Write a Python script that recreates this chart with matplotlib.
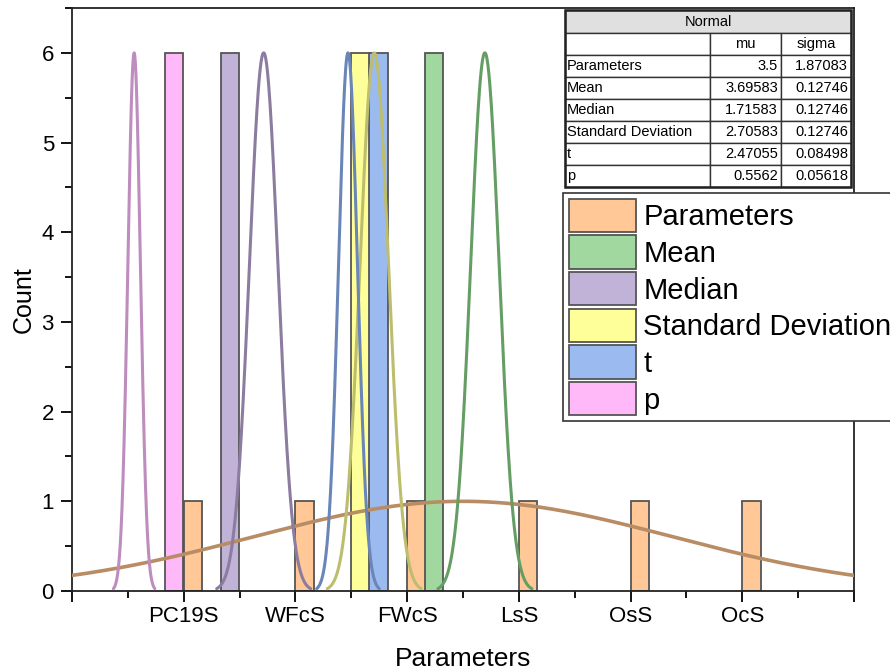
import numpy as np
import matplotlib
matplotlib.use("Agg")
import matplotlib.pyplot as plt
from matplotlib.patches import Rectangle
from matplotlib.ticker import MultipleLocator, FixedLocator

plt.rcParams['font.family'] = ['Liberation Sans', 'DejaVu Sans']

# ---------------- data ----------------
categories = ['PC19S', 'WFcS', 'FWcS', 'LsS', 'OsS', 'OcS']
category_pos = [1, 2, 3, 4, 5, 6]

series = ['Parameters', 'Mean', 'Median', 'Standard Deviation', 't', 'p']
mu = [3.5, 3.69583, 1.71583, 2.70583, 2.47055, 0.5562]
sigma = [1.87083, 0.12746, 0.12746, 0.12746, 0.08498, 0.05618]
mu_text = ['3.5', '3.69583', '1.71583', '2.70583', '2.47055', '0.5562']
sigma_text = ['1.87083', '0.12746', '0.12746', '0.12746', '0.08498', '0.05618']

# histogram bins (left edges) and counts per series
bin_left = {
    'Parameters': [1, 2, 3, 4, 5, 6],
    'Mean': [3.16],
    'Median': [1.33],
    'Standard Deviation': [2.50],
    't': [2.66],
    'p': [0.83],
}
bin_count = {
    'Parameters': [1, 1, 1, 1, 1, 1],
    'Mean': [6],
    'Median': [6],
    'Standard Deviation': [6],
    't': [6],
    'p': [6],
}
bin_width = 0.165
peak = [1, 6, 6, 6, 6, 6]

fill_colors = ['#FFC896', '#A0D8A0', '#C1B3D7', '#FFFF99', '#9BBBF0', '#FFB8F8']
line_colors = ['#B88C64', '#649E64', '#8C7CA0', '#BDBD6E', '#6A86B8', '#BE8CBE']

W, H = 890, 669
fig = plt.figure(figsize=(W / 100, H / 100), dpi=100)


def fx(x):
    return x / W


def fy(y):
    return 1 - y / H


ax = fig.add_axes([fx(72), fy(591), fx(854) - fx(72), fy(8) - fy(591)])
ax.set_xlim(0, 7)
ax.set_ylim(0, 6.5)

# bars
for i, s in enumerate(series):
    ax.bar(bin_left[s], bin_count[s], width=bin_width, align='edge',
           color=fill_colors[i], edgecolor='#555555', linewidth=1.3,
           label=s, zorder=2)

# normal curves
for i, s in enumerate(series):
    if i == 0:
        xs = np.linspace(0, 7, 400)
    else:
        xs = np.linspace(mu[i] - 3.3 * sigma[i], mu[i] + 3.3 * sigma[i], 200)
    ys = peak[i] * np.exp(-(xs - mu[i]) ** 2 / (2 * sigma[i] ** 2))
    ax.plot(xs, ys, color=line_colors[i], lw=2.6 if i == 0 else 2.2,
            zorder=3, solid_capstyle='round')

# axes styling
ax.xaxis.set_major_locator(FixedLocator(list(range(0, 8))))
ax.set_xticklabels([''] + categories + [''])
ax.xaxis.set_minor_locator(MultipleLocator(0.5))
ax.yaxis.set_major_locator(MultipleLocator(1))
ax.yaxis.set_minor_locator(MultipleLocator(0.5))
ax.tick_params(which='major', direction='out', length=8, width=1.3,
               labelsize=16, pad=3, colors='black')
ax.tick_params(which='minor', direction='out', length=5, width=1.3)
ax.tick_params(axis='y', which='major', pad=5)
for sp in ax.spines.values():
    sp.set_linewidth(1.3)
    sp.set_color('#222222')

ax.set_xlabel('Parameters', fontsize=19, labelpad=14)
ax.set_ylabel('Count', fontsize=18, labelpad=4)

# legend
leg = ax.legend(loc='upper left', bbox_to_anchor=(fx(563), fy(193)),
                bbox_transform=fig.transFigure, fontsize=21,
                handlelength=2.3, handleheight=1.38, labelspacing=0.115,
                handletextpad=0.25, borderpad=0.2, borderaxespad=0,
                frameon=True, fancybox=False, framealpha=1)
leg.get_frame().set_edgecolor('#333333')
leg.get_frame().set_linewidth(1.2)
leg.set_zorder(10)

# parameter table (top right)
col_x = [565, 710, 781, 851]
row_y = [10, 33, 55, 77, 99, 121, 143, 165, 187]
tfs = 10.5


def cell(x0, y0, x1, y1, face='white'):
    r = Rectangle((fx(x0), fy(y1)), fx(x1) - fx(x0), fy(y0) - fy(y1),
                  transform=fig.transFigure, facecolor=face,
                  edgecolor='#333333', linewidth=1.0, zorder=20)
    fig.add_artist(r)


cell(col_x[0], row_y[0], col_x[3], row_y[1], face='#E0E0E0')
fig.text(fx((col_x[0] + col_x[3]) / 2), fy((row_y[0] + row_y[1]) / 2), 'Normal',
         ha='center', va='center', fontsize=tfs, zorder=21)
for r in range(1, 8):
    for c in range(3):
        cell(col_x[c], row_y[r], col_x[c + 1], row_y[r + 1])
fig.text(fx((col_x[1] + col_x[2]) / 2), fy((row_y[1] + row_y[2]) / 2), 'mu',
         ha='center', va='center', fontsize=tfs, zorder=21)
fig.text(fx((col_x[2] + col_x[3]) / 2), fy((row_y[1] + row_y[2]) / 2), 'sigma',
         ha='center', va='center', fontsize=tfs, zorder=21)
for k, s in enumerate(series):
    yc = fy((row_y[k + 2] + row_y[k + 3]) / 2)
    fig.text(fx(col_x[0] + 2), yc, s, ha='left', va='center', fontsize=tfs, zorder=21)
    fig.text(fx(col_x[2] - 3), yc, mu_text[k], ha='right', va='center', fontsize=tfs, zorder=21)
    fig.text(fx(col_x[3] - 3), yc, sigma_text[k], ha='right', va='center', fontsize=tfs, zorder=21)
outer = Rectangle((fx(col_x[0]), fy(row_y[-1])), fx(col_x[3]) - fx(col_x[0]),
                  fy(row_y[0]) - fy(row_y[-1]), transform=fig.transFigure,
                  facecolor='none', edgecolor='#222222', linewidth=1.8, zorder=22)
fig.add_artist(outer)

fig.savefig('out.png', dpi=100)
